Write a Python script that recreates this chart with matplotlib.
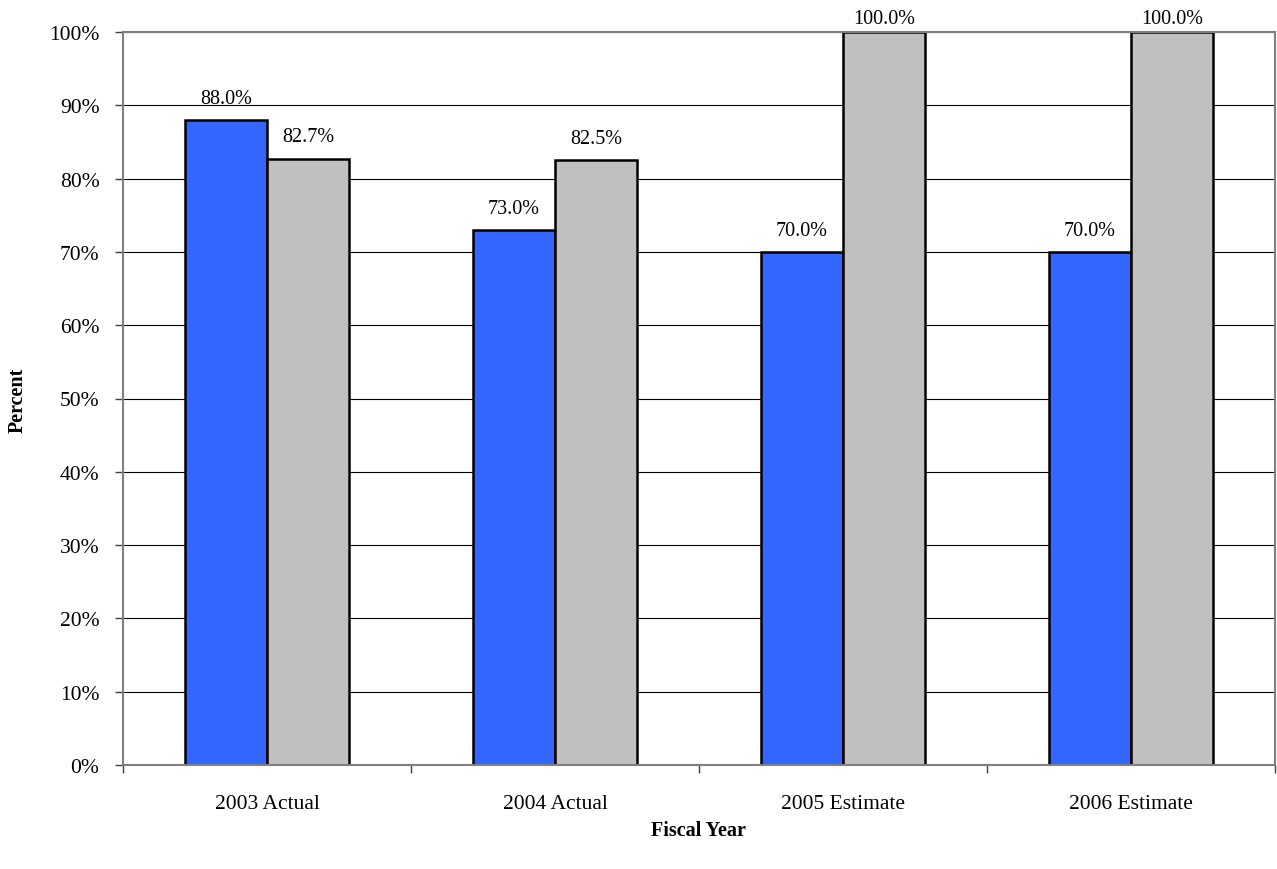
import matplotlib
matplotlib.use("Agg")
import matplotlib.pyplot as plt
import numpy as np
from matplotlib.ticker import FixedLocator, PercentFormatter

categories = ["2003 Actual", "2004 Actual", "2005 Estimate", "2006 Estimate"]
series_a = [88.0, 73.0, 70.0, 70.0]
series_b = [82.7, 82.5, 100.0, 100.0]
y_ticks = [0, 10, 20, 30, 40, 50, 60, 70, 80, 90, 100]

plt.rcParams['font.family'] = ['Liberation Serif', 'DejaVu Serif']

fig = plt.figure(figsize=(12.77, 8.70), dpi=100)
ax = fig.add_axes([123/1277, (870-766)/870, (1275-123)/1277, (766-33)/870])

x = np.arange(len(categories))
w = 0.285
bars_a = ax.bar(x - w/2, series_a, w, color="#3366FF", edgecolor="black", linewidth=1.8, zorder=3)
bars_b = ax.bar(x + w/2, series_b, w, color="#C0C0C0", edgecolor="black", linewidth=1.8, zorder=3)

for bars, vals in ((bars_a, series_a), (bars_b, series_b)):
    for b, v in zip(bars, vals):
        off = 12.5 if v < 95 else 6.5
        ax.annotate(f"{v:.1f}%", (b.get_x() + b.get_width()/2, v),
                    xytext=(0, off), textcoords="offset points",
                    ha="center", va="baseline", fontsize=14.5, clip_on=False)

ax.set_xlim(-0.5, len(categories) - 0.5)
ax.set_ylim(0, 100)
ax.set_yticks(y_ticks)
ax.yaxis.set_major_formatter(PercentFormatter(decimals=0))
ax.yaxis.grid(True, color="black", linewidth=0.8, zorder=0)
ax.set_axisbelow(True)

ax.set_xticks(x)
ax.set_xticklabels(categories)
ax.xaxis.set_minor_locator(FixedLocator(np.arange(-0.5, len(categories), 1.0)))
ax.tick_params(axis="x", which="major", length=0, pad=21, labelsize=15.5)
ax.tick_params(axis="x", which="minor", length=6, width=1, color="#404040", direction="out")
ax.tick_params(axis="y", which="major", length=6, width=1, color="#404040", labelsize=15.5, pad=11)

for s in ax.spines.values():
    s.set_color("#808080")
    s.set_linewidth(1.5)
    s.set_zorder(4)

fig.text(18/1277, 1 - 400/870, "Percent", rotation=90, ha="center", va="center",
         fontsize=14.5, fontweight="bold")
fig.text(698/1277, 1 - 831/870, "Fiscal Year", ha="center", va="center",
         fontsize=14.5, fontweight="bold")

fig.savefig("out.png", dpi=100)
